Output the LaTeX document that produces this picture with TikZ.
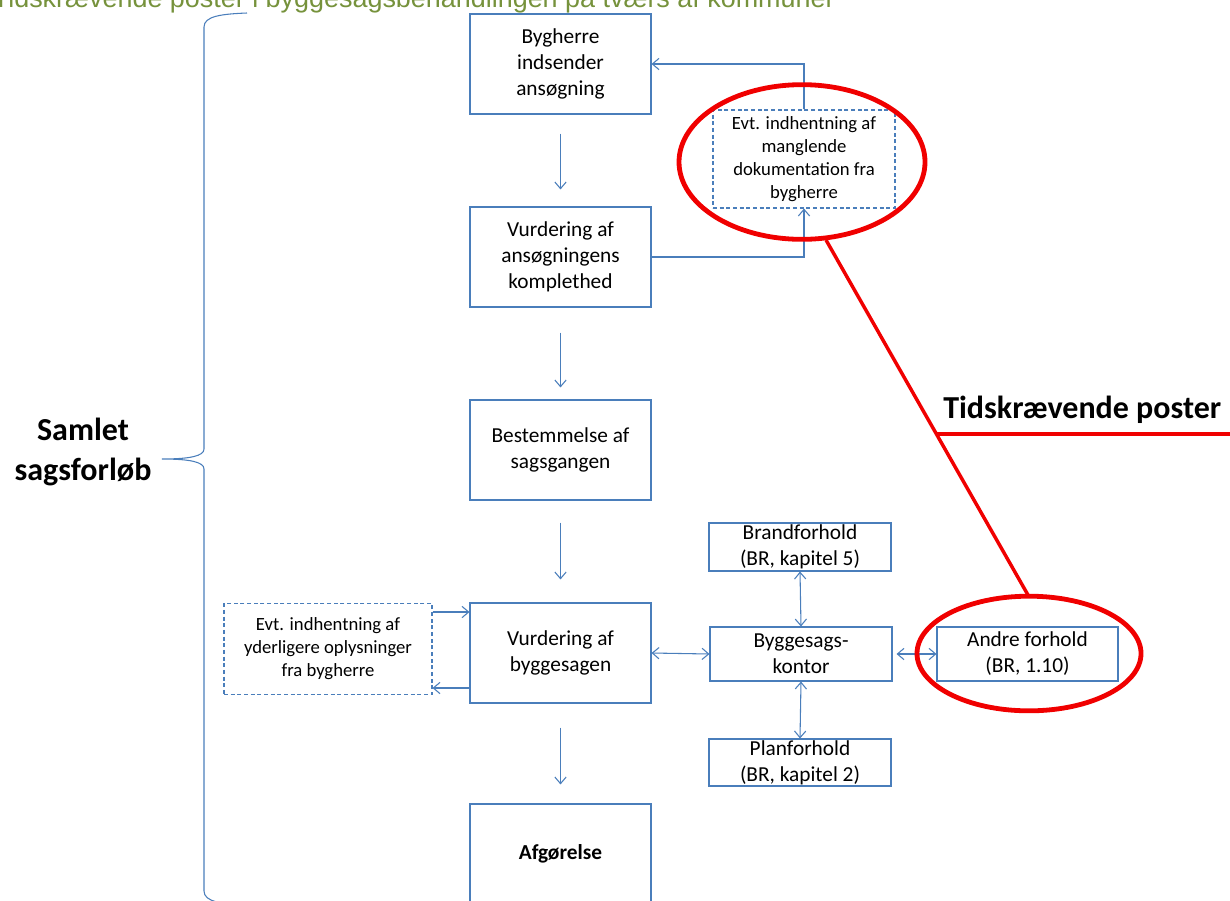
\documentclass[tikz,border=0pt]{standalone}
\usepackage{fontspec}
\setmainfont{Carlito}
\newfontfamily\arialf{Liberation Sans}
\usetikzlibrary{arrows.meta,shapes.geometric,calc}
\definecolor{lineblue}{RGB}{74,126,187}
\definecolor{olivetitle}{RGB}{118,146,60}
\definecolor{markred}{RGB}{240,0,0}
\begin{document}
\begin{tikzpicture}[x=0.75pt,y=-0.75pt,
  box/.style={draw=lineblue,line width=0.8pt,inner sep=0pt,align=center,
    font=\fontsize{16}{19.5}\selectfont,minimum width=135.75pt,minimum height=75pt},
  smallbox/.style={draw=lineblue,line width=0.8pt,inner sep=0pt,align=center,
    font=\fontsize{16}{19.5}\selectfont,minimum width=136.5pt},
  dbox/.style={draw=lineblue,line width=0.8pt,dash pattern=on 3pt off 2pt,inner sep=0pt,
    align=center,font=\fontsize{14}{17.2}\selectfont},
  conn/.style={draw=lineblue,line width=0.8pt},
  arr/.style={conn,-{Straight Barb[length=5pt,width=8.5pt]}},
  arrr/.style={conn,{Straight Barb[length=5pt,width=8.5pt]}-{Straight Barb[length=5pt,width=8.5pt]}},
  redring/.style={ellipse,draw=markred,line width=3.6pt,inner sep=0pt},
  redline/.style={draw=markred,line width=2.6pt},
  bigbold/.style={font=\bfseries\fontsize{24}{30}\selectfont,inner sep=0pt}
]
\useasboundingbox (0,0) rectangle (1230,900);

% title
\node[font=\arialf\fontsize{20.2}{24}\selectfont,text=olivetitle,anchor=base east,inner sep=0pt]
  (title) at (835,7) {Tidskrævende poster i byggesagsbehandlingen på tværs af kommuner};

% main column
\node[box] (b1) at (560.5,64) {Bygherre\\indsender\\ansøgning};
\node[box] (b2) at (560.5,257) {Vurdering af\\ansøgningens\\komplethed};
\node[box] (b3) at (560.5,450) {Bestemmelse af\\sagsgangen};
\node[box] (b4) at (560.5,653) {Vurdering af\\byggesagen};
\node[box] (b5) at (560.5,854) {\textbf{Afgørelse}};

% dashed boxes
\node[dbox,minimum width=136.5pt,minimum height=73.5pt] (d1) at (804,159)
  {Evt. indhentning af\\manglende\\dokumentation fra\\bygherre};
\node[dbox,minimum width=156pt,minimum height=68.25pt] (d2) at (328,649)
  {Evt. indhentning af\\yderligere oplysninger\\fra bygherre};

% side boxes
\node[smallbox,minimum height=36pt] (brand) at (800,547) {Brandforhold\\(BR, kapitel 5)};
\node[smallbox,minimum height=40.5pt] (kontor) at (801,654) {Byggesags-\\kontor};
\node[smallbox,minimum height=35.25pt] (plan) at (800,762.5) {Planforhold\\(BR, kapitel 2)};
\node[smallbox,minimum width=135.75pt,minimum height=40.5pt] (andre) at (1027.5,654) {Andre forhold\\(BR, 1.10)};

% arrows main column
\draw[arr,shorten <=14.25pt,shorten >=12.75pt] (b1.south) -- (b2.north);
\draw[arr,shorten <=18.75pt,shorten >=9pt] (b2.south) -- (b3.north);
\draw[arr,shorten <=16.5pt,shorten >=17.25pt] (b3.south) -- (b4.north);
\draw[arr,shorten <=18pt,shorten >=14.25pt] (b4.south) -- (b5.north);

% loop to d1
\draw[arr] (b2.east) -| (d1.south);
\draw[arr] (d1.north) |- (b1.east);

% d2 loop
\draw[arr] (d2.east |- 0,612) -- (b4.west |- 0,612);
\draw[arr] (b4.west |- 0,688) -- (d2.east |- 0,688);

% kontor links
\draw[arrr] (b4.east) -- (kontor.west);
\draw[arrr,shorten <=3pt] (kontor.east) -- (andre.west);
\draw[arrr] (brand.south) -- (kontor.north);
\draw[arrr] (kontor.south) -- (plan.north);

% brace
\draw[conn] (247,13) .. controls (222,14) and (204,16) .. (204,27) -- (204,449)
  .. controls (204,456) and (190,459) .. (162,459)
  .. controls (190,459) and (204,462) .. (204,469) -- (204,891)
  .. controls (204,902) and (222,904) .. (247,905);
\node[bigbold,align=center] (samlet) at (83,452) {Samlet\\sagsforløb};

% red markings
\node[redring,minimum width=184.5pt,minimum height=116pt] (e1) at (802,162) {};
\node[redring,minimum width=168pt,minimum height=86pt] (e2) at (1029,653.5) {};
\coordinate (r1) at (826,240);
\coordinate (r2) at (1028,595);
\coordinate (rx) at (937,434);
\coordinate (rend) at (1240,434);
\draw[redline] (r1) -- (r2);
\draw[redline] (rx) -- (rend);
\node[bigbold,anchor=base west] (tp) at (943,418) {Tidskrævende poster};
\end{tikzpicture}
\end{document}
